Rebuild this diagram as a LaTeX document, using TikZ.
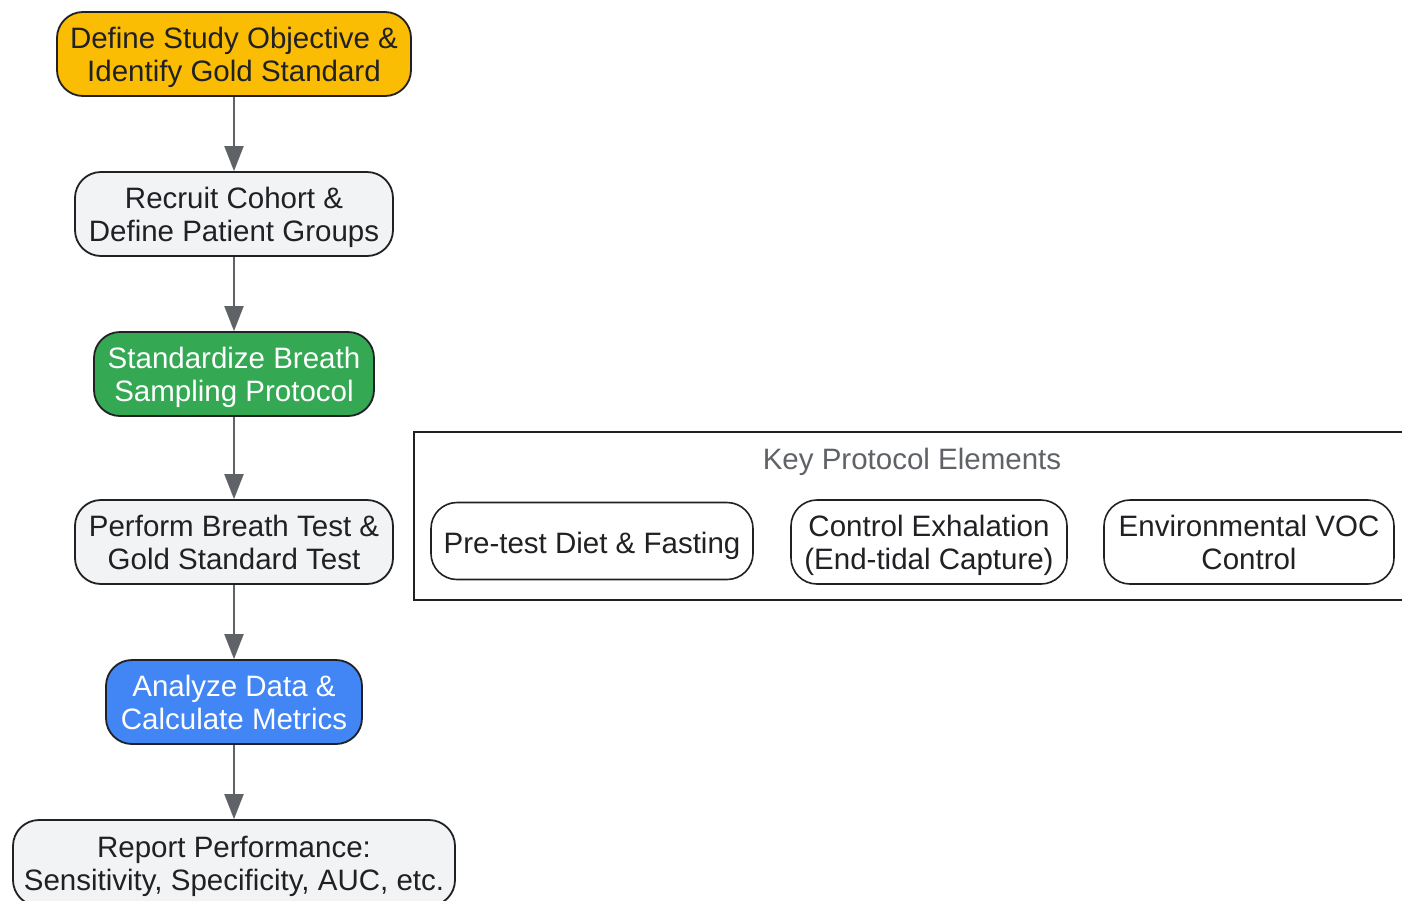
\documentclass[tikz,border=0pt]{standalone}
\usepackage{fontspec}
\setmainfont{Liberation Sans}
\usetikzlibrary{arrows.meta}
\definecolor{cyel}{HTML}{FBBC04}
\definecolor{cgray}{HTML}{F1F3F4}
\definecolor{cgreen}{HTML}{34A853}
\definecolor{cblue}{HTML}{4285F4}
\definecolor{ctext}{HTML}{202124}
\definecolor{carrow}{HTML}{5F6368}
\begin{document}
\begin{tikzpicture}[x=1pt,y=-1pt,
  twoline/.style={text height=60pt,text depth=6pt},
  oneline/.style={text height=27pt,text depth=6pt},
  box/.style={draw=ctext,line width=1.8pt,rounded corners=26pt,align=center,
    inner sep=0pt,font=\fontsize{29.5}{33}\selectfont,text=ctext,twoline},
  inbox/.style={draw=ctext,line width=1.6pt,rounded corners=26pt,align=center,
    inner sep=0pt,font=\fontsize{29.5}{33}\selectfont,text=ctext,fill=white,twoline},
  flow/.style={draw=carrow,line width=2pt,-{Triangle[length=25pt,width=19pt]}}]
\useasboundingbox (0,0) rectangle (1402,900);
\fill[white] (0,0) rectangle (1402,900);

\node[box,fill=cyel,minimum width=354pt,minimum height=84pt] (n1) at (234,54) {Define Study Objective \&\\Identify Gold Standard};
\node[box,fill=cgray,minimum width=318pt,minimum height=84pt] (n2) at (234,214) {Recruit Cohort \&\\Define Patient Groups};
\node[box,fill=cgreen,text=white,minimum width=280pt,minimum height=84pt] (n3) at (234,374) {Standardize Breath\\Sampling Protocol};
\node[box,fill=cgray,minimum width=318pt,minimum height=84pt] (n4) at (234,542) {Perform Breath Test \&\\Gold Standard Test};
\node[box,fill=cblue,text=white,minimum width=256pt,minimum height=84pt] (n5) at (234,702) {Analyze Data \&\\Calculate Metrics};
\node[box,fill=cgray,minimum width=442pt,minimum height=86pt] (n6) at (234,863) {Report Performance:\\Sensitivity, Specificity, AUC, etc.};

\draw[flow] (n1) -- (n2);
\draw[flow] (n2) -- (n3);
\draw[flow] (n3) -- (n4);
\draw[flow] (n4) -- (n5);
\draw[flow] (n5) -- (n6);

\node[draw=ctext,line width=1.8pt,minimum width=996pt,minimum height=168pt,inner sep=0pt] (cl) at (912,516) {};
\node[font=\fontsize{29.5}{33}\selectfont,text=carrow,inner sep=0pt,oneline] (clt) at (912,459) {Key Protocol Elements};

\node[inbox,text height=31pt,text depth=6pt,minimum width=322pt,minimum height=77pt] (p1) at (592,541) {Pre-test Diet \& Fasting};
\node[inbox,minimum width=276pt,minimum height=84pt] (p2) at (929,542) {Control Exhalation\\(End-tidal Capture)};
\node[inbox,minimum width=290pt,minimum height=84pt] (p3) at (1249,542) {Environmental VOC\\Control};
\end{tikzpicture}
\end{document}
